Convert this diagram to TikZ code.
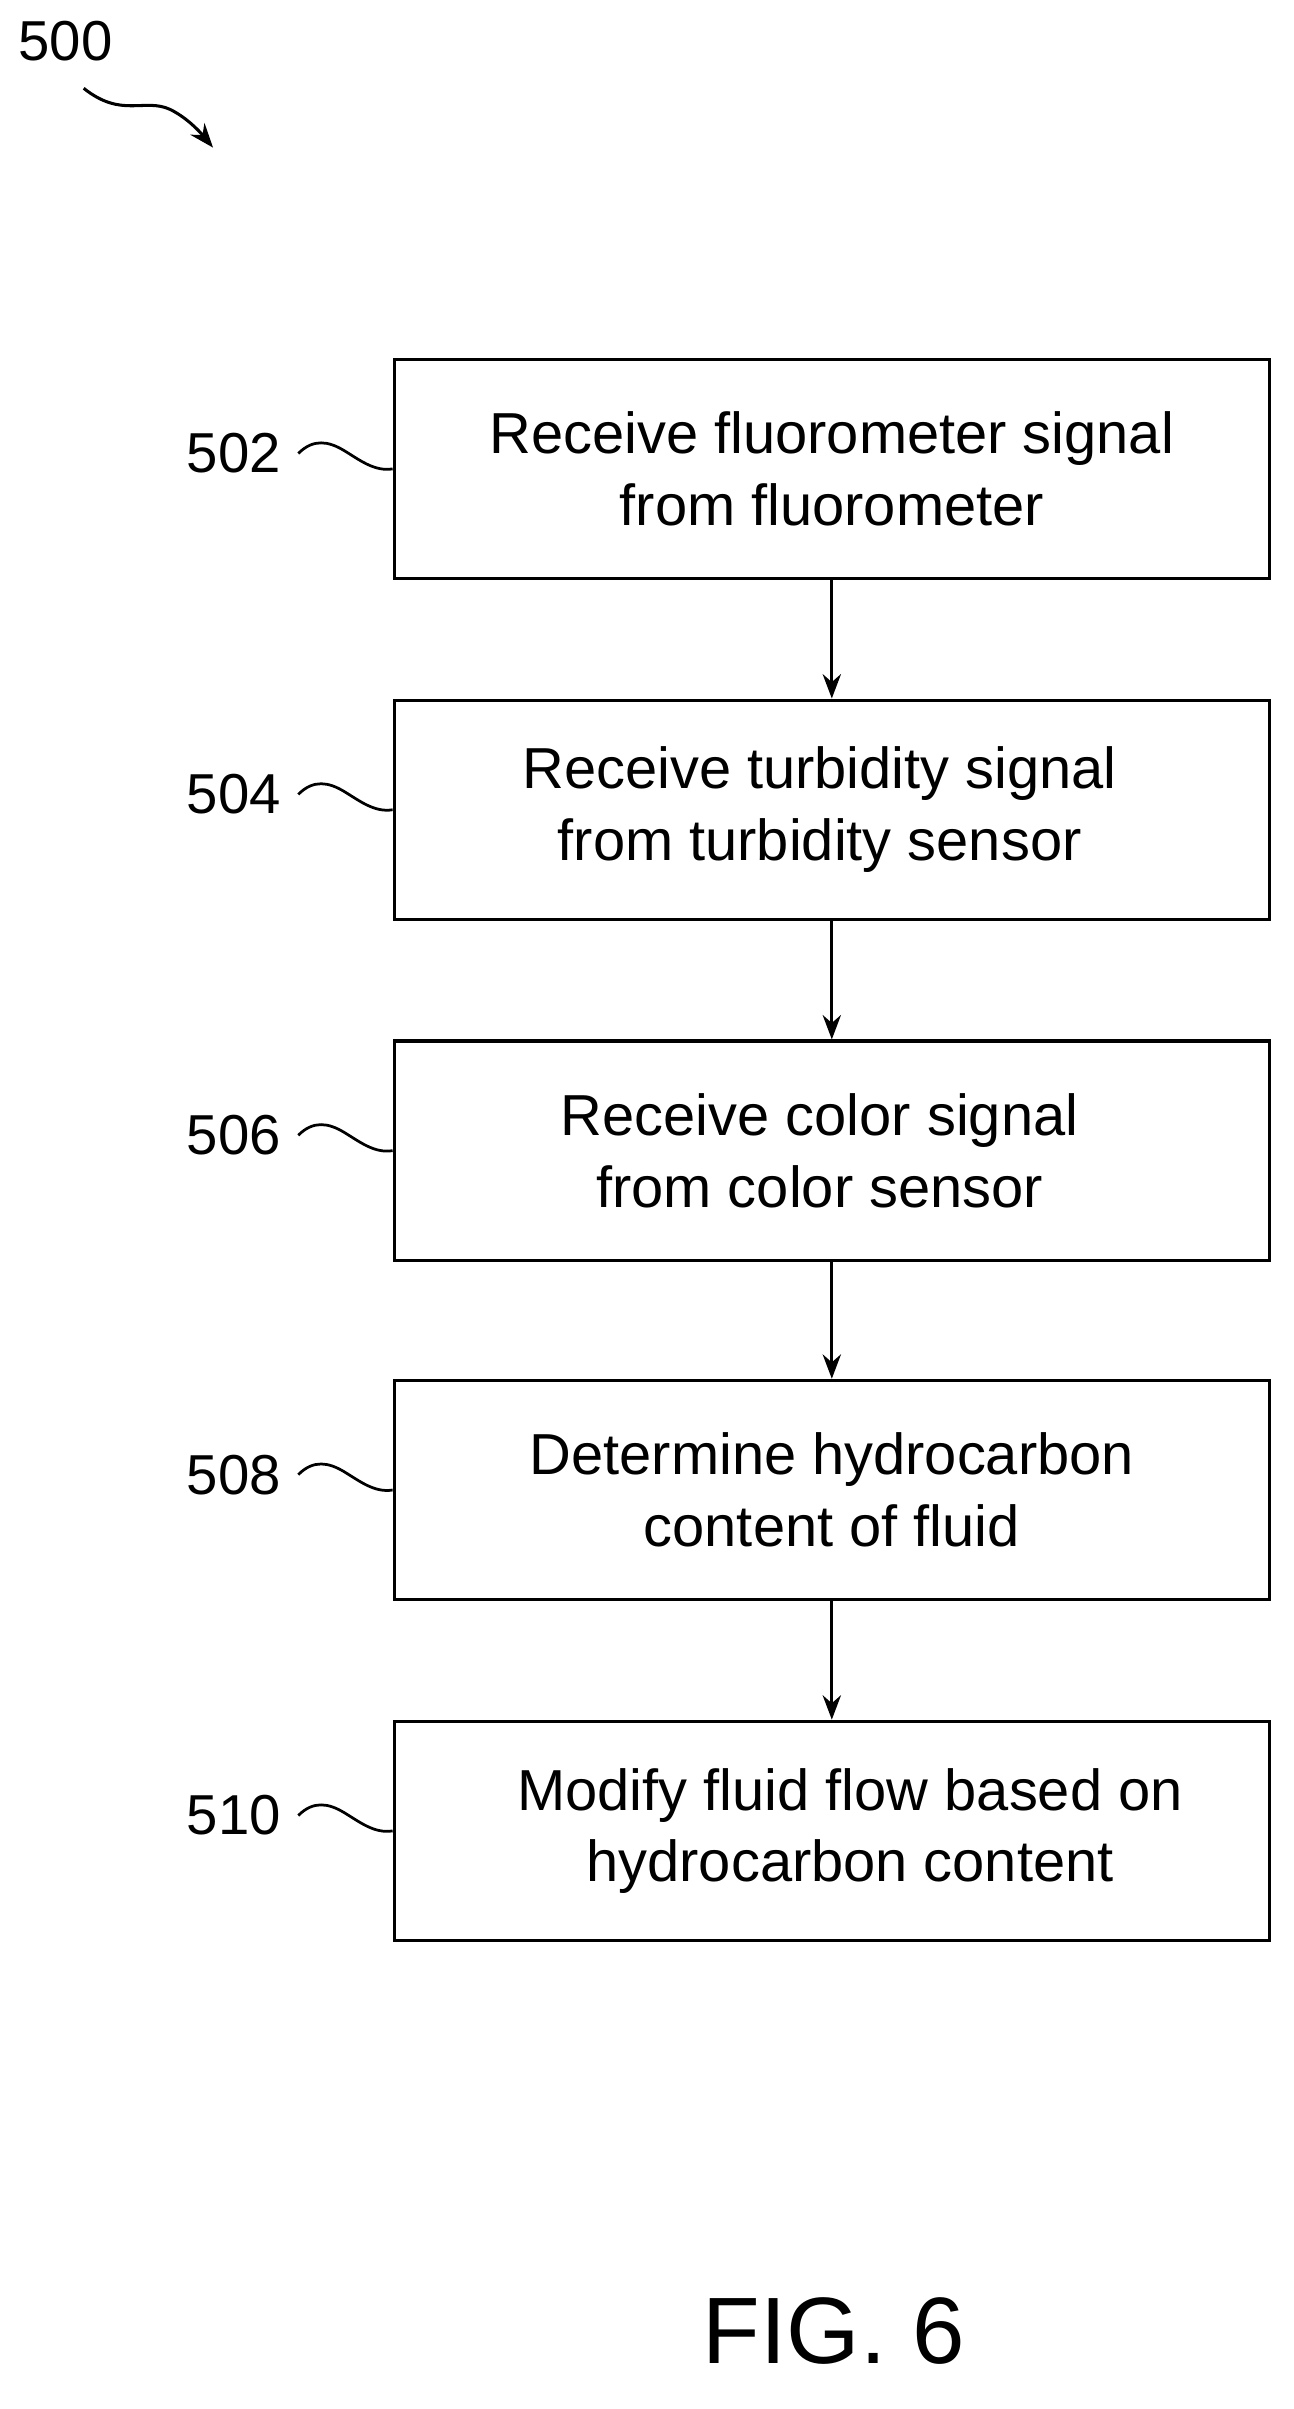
\documentclass[tikz,border=0pt]{standalone}
\usepackage{fontspec}
\setmainfont{Liberation Sans}
\usetikzlibrary{arrows.meta}
\begin{document}
\begin{tikzpicture}[x=1pt,y=-1pt,
 box/.style={draw,line width=2.2pt,minimum width=575pt,minimum height=144pt,anchor=north west,align=center,font=\fontsize{38}{47}\selectfont},
 lab/.style={font=\fontsize{37}{40}\selectfont,anchor=east},
 arr/.style={line width=2pt,-{Stealth[length=16pt,width=12pt]}},
 sq/.style={line width=1.8pt}]
\useasboundingbox (0,0) rectangle (850,1583);
\node[font=\fontsize{37}{40}\selectfont] (l500) at (43,27) {500};
\coordinate (a1) at (55,58);
\coordinate (a2) at (140,97);
\draw[arr] (a1) .. controls (80,78) and (95,64) .. (112,72) .. controls (122,77) and (130,85) .. (a2);
\foreach \n/\y/\dx/\t in {502/235/0/{Receive fluorometer signal\\from fluorometer},504/459/-8/{Receive turbidity signal\\from turbidity sensor},506/683/-8/{Receive color signal\\from color sensor},508/906/0/{Determine hydrocarbon\\content of fluid},510/1130/12/{Modify fluid flow based on\\hydrocarbon content}}{
 \node[box] (b\n) at (258,\y) {};
 \node[align=center,font=\fontsize{38}{47}\selectfont] (t\n) at ([xshift=\dx pt]b\n.center) {\t};
 \node[lab] (l\n) at (188,\y+63) {\n};
 \draw[sq] (l\n.east)++(8,0) coordinate (s\n) .. controls +(10,-10) and +(-10,-6) .. +(30,-2) .. controls +(10,6) and +(-12,2) .. (b\n.west);
}
\draw[arr] (b502) -- (b504);
\draw[arr] (b504) -- (b506);
\draw[arr] (b506) -- (b508);
\draw[arr] (b508) -- (b510);
\node[font=\fontsize{62}{66}\selectfont] (fig) at (548,1532) {FIG. 6};
\end{tikzpicture}
\end{document}
